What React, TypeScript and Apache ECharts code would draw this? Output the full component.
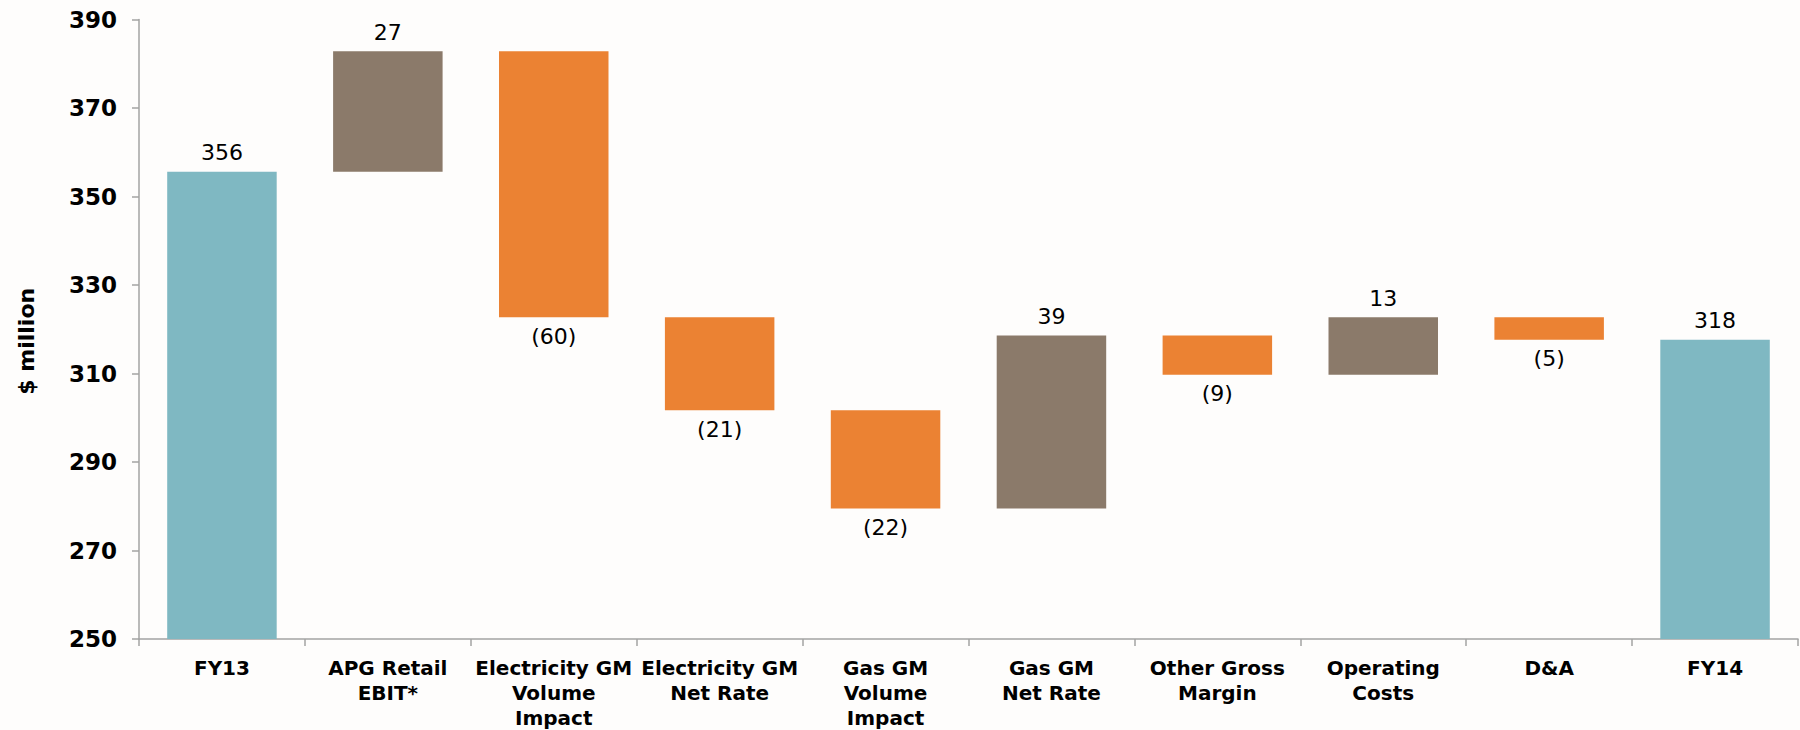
import React, { useEffect, useRef } from "react";
import * as echarts from "echarts";

const categories = [
  "FY13",
  "APG Retail\nEBIT*",
  "Electricity GM\nVolume\nImpact",
  "Electricity GM\nNet Rate",
  "Gas GM\nVolume\nImpact",
  "Gas GM\nNet Rate",
  "Other Gross\nMargin",
  "Operating\nCosts",
  "D&A",
  "FY14",
];
const startValue = 355.6;
const changes = [27.2, -60.1, -21.0, -22.2, 39.1, -8.9, 13.0, -5.1];
const endValue = 317.6;
const yTicks = [250, 270, 290, 310, 330, 350, 370, 390];

const TOTAL_COLOR = "#7FB8C2";
const UP_COLOR = "#8B7A6A";
const DOWN_COLOR = "#EB8233";

export default function App() {
  const ref = useRef<HTMLDivElement>(null);
  useEffect(() => {
    if (!ref.current) return;
    const chart = echarts.init(ref.current, undefined, { renderer: "svg" });

    const base: any[] = [];
    const visible: any[] = [];
    const signed: number[] = [];

    base.push(0);
    visible.push({ value: startValue, itemStyle: { color: TOTAL_COLOR }, label: { position: "top" } });
    signed.push(startValue);
    let running = startValue;
    changes.forEach((c) => {
      if (c >= 0) {
        base.push(running);
        visible.push({ value: c, itemStyle: { color: UP_COLOR }, label: { position: "top" } });
        running += c;
      } else {
        running += c;
        base.push(running);
        visible.push({ value: -c, itemStyle: { color: DOWN_COLOR }, label: { position: "bottom" } });
      }
      signed.push(c);
    });
    base.push(0);
    visible.push({ value: endValue, itemStyle: { color: TOTAL_COLOR }, label: { position: "top" } });
    signed.push(endValue);

    const axisColor = "#A3A3A3";

    chart.setOption({
      animation: false,
      backgroundColor: "#fefdfc",
      grid: { left: 139, right: 2, top: 19.5, bottom: 89.4, containLabel: false },
      xAxis: {
        type: "category",
        data: categories,
        axisLine: { show: true, lineStyle: { color: axisColor, width: 1.5 } },
        axisTick: { show: true, length: 7, interval: 0, lineStyle: { color: axisColor, width: 1.5 } },
        axisLabel: {
          interval: 0,
          margin: 16,
          color: "#000",
          fontFamily: "'DejaVu Sans', sans-serif",
          fontWeight: "bold",
          fontSize: 20,
          lineHeight: 25,
          hideOverlap: false,
        },
      },
      yAxis: {
        type: "value",
        min: 250,
        max: 390,
        name: "$ million",
        nameLocation: "middle",
        nameGap: 102,
        nameRotate: 90,
        nameTextStyle: {
          color: "#000",
          fontFamily: "'DejaVu Sans', sans-serif",
          fontWeight: "bold",
          fontSize: 22,
          padding: [0, 24, 0, 0],
        },
        splitLine: { show: false },
        axisLine: { show: true, lineStyle: { color: axisColor, width: 1.5 } },
        axisTick: { show: true, length: 7, customValues: yTicks, lineStyle: { color: axisColor, width: 1.5 } },
        axisLabel: {
          customValues: yTicks,
          margin: 22,
          color: "#000",
          fontFamily: "'DejaVu Sans', sans-serif",
          fontWeight: "bold",
          fontSize: 23,
        },
      },
      series: [
        {
          type: "bar",
          stack: "w",
          silent: true,
          barCategoryGap: "34%",
          itemStyle: { color: "transparent" },
          data: base,
        },
        {
          type: "bar",
          stack: "w",
          barCategoryGap: "34%",
          data: visible,
          label: {
            show: true,
            distance: 8,
            color: "#000",
            fontFamily: "'DejaVu Sans', sans-serif",
            fontSize: 22,
            formatter: (p: any) => {
              const v = signed[p.dataIndex];
              return v < 0 ? `(${Math.round(-v)})` : `${Math.round(v)}`;
            },
          },
        },
      ],
    });
    return () => chart.dispose();
  }, []);
  return (
    <div
      ref={ref}
      style={{ position: "fixed", left: 0, top: 0, width: 1800, height: 730 }}
    />
  );
}
